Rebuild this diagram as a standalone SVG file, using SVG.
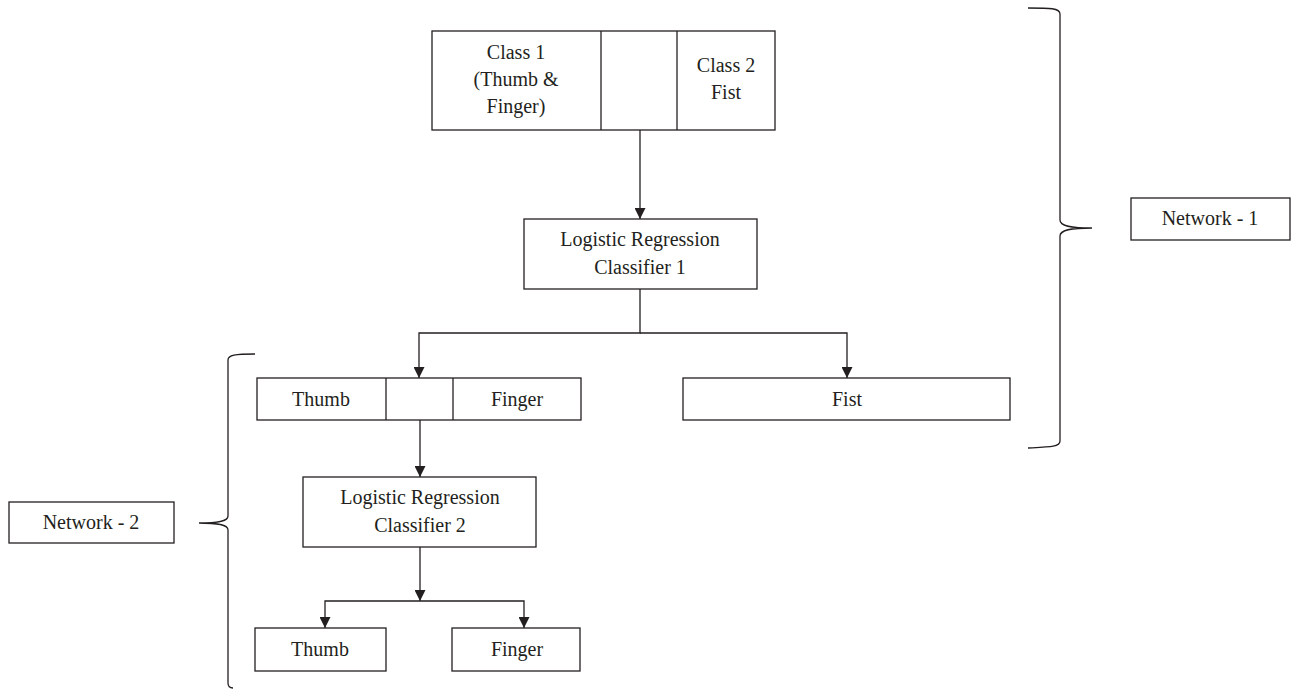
<svg xmlns="http://www.w3.org/2000/svg" width="1295" height="690" viewBox="0 0 1295 690">
<style>
.b{fill:#fff;stroke:#231f20;stroke-width:1.3}
.t{font-family:"Liberation Serif","Times New Roman",serif;font-size:20px;fill:#231f20;text-anchor:middle}
.c{fill:none;stroke:#231f20;stroke-width:1.3}
</style>
<defs>
<marker id="ah" viewBox="0 0 10 10" refX="10" refY="5" markerWidth="11" markerHeight="11" markerUnits="userSpaceOnUse" orient="auto">
<path d="M0,0 L10,5 L0,10 z" fill="#231f20"/>
</marker>
</defs>
<rect width="1295" height="690" fill="#fff"/>
<g id="connectors">
<path class="c" d="M640,130 V219" marker-end="url(#ah)"/>
<path class="c" d="M640,289 V333 H419 V378" marker-end="url(#ah)"/>
<path class="c" d="M640,333 H847 V378" marker-end="url(#ah)"/>
<path class="c" d="M420,420 V477" marker-end="url(#ah)"/>
<path class="c" d="M420,547 V601" marker-end="url(#ah)"/>
<path class="c" d="M420,601 H325 V628" marker-end="url(#ah)"/>
<path class="c" d="M420,601 H524 V628" marker-end="url(#ah)"/>
</g>
<g id="braces">
<path class="c" d="M1028,8 C1050,8 1060,8 1060,14 L1060,220 C1060,226 1070,228 1092,228 C1070,228 1060,230 1060,236 L1060,441 C1060,447 1050,447 1028,448"/>
<path class="c" d="M255,354 C235,354 228,355 228,360 L228,516 C228,521 220,523 199,523 C220,523 228,525 228,530 L228,683 C228,687 230,688 233,688"/>
</g>
<g id="input">
<rect class="b" x="432" y="31" width="343" height="99"/>
<line class="c" x1="601" y1="31" x2="601" y2="130"/>
<line class="c" x1="677" y1="31" x2="677" y2="130"/>
<text class="t" x="516" y="59">Class 1</text>
<text class="t" x="516" y="86">(Thumb &amp;</text>
<text class="t" x="516" y="113">Finger)</text>
<text class="t" x="726" y="72">Class 2</text>
<text class="t" x="726" y="99">Fist</text>
</g>
<g id="lr1">
<rect class="b" x="524" y="219" width="233" height="70"/>
<text class="t" x="640" y="246">Logistic Regression</text>
<text class="t" x="640" y="274">Classifier 1</text>
</g>
<g id="thumbfinger">
<rect class="b" x="257" y="378" width="324" height="42"/>
<line class="c" x1="386" y1="378" x2="386" y2="420"/>
<line class="c" x1="453" y1="378" x2="453" y2="420"/>
<text class="t" x="321" y="406">Thumb</text>
<text class="t" x="517" y="406">Finger</text>
</g>
<g id="fist">
<rect class="b" x="683" y="378" width="327" height="42"/>
<text class="t" x="847" y="406">Fist</text>
</g>
<g id="lr2">
<rect class="b" x="303" y="477" width="233" height="70"/>
<text class="t" x="420" y="504">Logistic Regression</text>
<text class="t" x="420" y="532">Classifier 2</text>
</g>
<g id="thumb">
<rect class="b" x="255" y="628" width="131" height="43"/>
<text class="t" x="320" y="656">Thumb</text>
</g>
<g id="finger">
<rect class="b" x="452" y="628" width="128" height="43"/>
<text class="t" x="517" y="656">Finger</text>
</g>
<g id="network1">
<rect class="b" x="1131" y="198" width="159" height="42"/>
<text class="t" x="1210" y="225">Network - 1</text>
</g>
<g id="network2">
<rect class="b" x="9" y="502" width="165" height="41"/>
<text class="t" x="91" y="529">Network - 2</text>
</g>
</svg>
